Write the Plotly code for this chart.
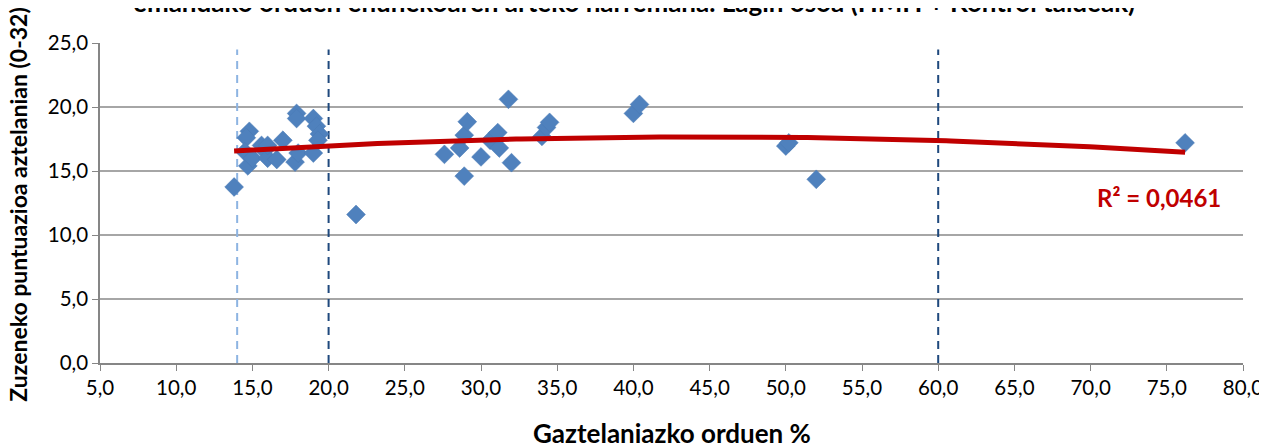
import numpy as np
import plotly.graph_objects as go

# Gaztelaniazko orduen % (x) eta zuzeneko puntuazioa aztelanian (y)
gazt_pct = [13.8, 14.8, 14.6, 14.7, 14.5, 15.0, 15.6, 15.8, 16.0, 16.0,
            16.6, 17.0, 17.8, 17.9, 17.9, 18.0, 19.0, 19.2, 19.4, 19.3,
            19.0, 21.8, 27.6, 28.6, 28.9, 28.9, 29.1, 30.0, 30.6, 31.1,
            31.2, 31.8, 32.0, 34.0, 34.3, 34.5, 40.0, 40.4, 50.0, 50.2,
            52.0, 76.2]
puntuazioa = [13.75, 18.1, 17.6, 15.4, 16.5, 16.0, 17.0, 16.6, 16.0, 17.0,
              15.9, 17.4, 15.7, 19.5, 19.1, 16.4, 19.1, 18.5, 17.9, 17.4,
              16.4, 11.6, 16.3, 16.8, 17.8, 14.6, 18.85, 16.1, 17.4, 18.0,
              16.8, 20.6, 15.65, 17.7, 18.4, 18.8, 19.5, 20.2, 16.95, 17.2,
              14.35, 17.2]

# erreferentzia-lerroak (% orduak)
ref_light = [14.0]
ref_dark = [20.0, 60.0]
ref_top = 24.5

r2_text = "R² = 0,0461"
title_text = "emandako orduen ehunekoaren arteko harremana. Lagin osoa (HMH + Kontrol taldeak)"

FONT = "Lato, 'Open Sans', Arial, sans-serif"

fig = go.Figure()

# lerro bertikal etenak
for xv in ref_light:
    fig.add_trace(go.Scatter(x=[xv, xv], y=[0, ref_top], mode="lines",
                             line=dict(color="#8DB4E2", width=2, dash="8px,6px"),
                             hoverinfo="skip", showlegend=False))
for xv in ref_dark:
    fig.add_trace(go.Scatter(x=[xv, xv], y=[0, ref_top], mode="lines",
                             line=dict(color="#1F497D", width=2, dash="8px,6px"),
                             hoverinfo="skip", showlegend=False))

# puntuak
fig.add_trace(go.Scatter(x=gazt_pct, y=puntuazioa, mode="markers",
                         marker=dict(symbol="diamond", size=14.5, color="#4F81BD",
                                     line=dict(color="#4A7AB5", width=0.5)),
                         showlegend=False))

# joera-lerroa (2. mailako polinomioa)
coef = np.polyfit(gazt_pct, puntuazioa, 2)
xs = np.linspace(min(gazt_pct), max(gazt_pct), 200)
fig.add_trace(go.Scatter(x=xs, y=np.polyval(coef, xs), mode="lines",
                         line=dict(color="#C00000", width=5),
                         hoverinfo="skip", showlegend=False))

# orrialdeak 8px-ko marjina du: irudia horren arabera murriztu
fig.update_layout(
    width=1259, height=436,
    margin=dict(l=92, r=24, t=35, b=81),
    paper_bgcolor="white", plot_bgcolor="white",
    separators=",.",
    font=dict(family=FONT, size=20, color="#000000"),
    xaxis=dict(range=[5, 80], tick0=5, dtick=5, tickformat=".1f",
               showgrid=False, zeroline=False, showline=True, automargin=False,
               linecolor="#868686", linewidth=1.5,
               ticks="outside", ticklen=6, tickcolor="#868686",
               tickfont=dict(size=20.5)),
    yaxis=dict(range=[0, 25], dtick=5, tickformat=".1f",
               showgrid=True, gridcolor="#A6A6A6", gridwidth=1.5,
               zeroline=False, showline=True, automargin=False,
               linecolor="#868686", linewidth=1.5,
               ticks="outside", ticklen=6, tickcolor="#868686",
               tickfont=dict(size=20.5)),
)

fig.add_annotation(x=78.7, y=12.9, xref="x", yref="y", text="<b>" + r2_text + "</b>",
                   showarrow=False, xanchor="right", yanchor="middle",
                   font=dict(size=24, color="#C00000", family=FONT))
fig.add_annotation(x=0.467, y=1.128, xref="paper", yref="paper", text="<b>" + title_text + "</b>",
                   showarrow=False, xanchor="center", yanchor="middle",
                   font=dict(size=26, family=FONT))
fig.add_annotation(x=0.500, y=-0.219, xref="paper", yref="paper",
                   text="<b>Gaztelaniazko orduen %</b>",
                   showarrow=False, xanchor="center", yanchor="middle",
                   font=dict(size=26, family=FONT))
fig.add_annotation(x=-0.0717, y=0.495, xref="paper", yref="paper",
                   text="<b>Zuzeneko puntuazioa aztelanian (0-32)</b>",
                   showarrow=False, textangle=-90, xanchor="center", yanchor="middle",
                   font=dict(size=23, family=FONT))

fig.write_html("out.html")
